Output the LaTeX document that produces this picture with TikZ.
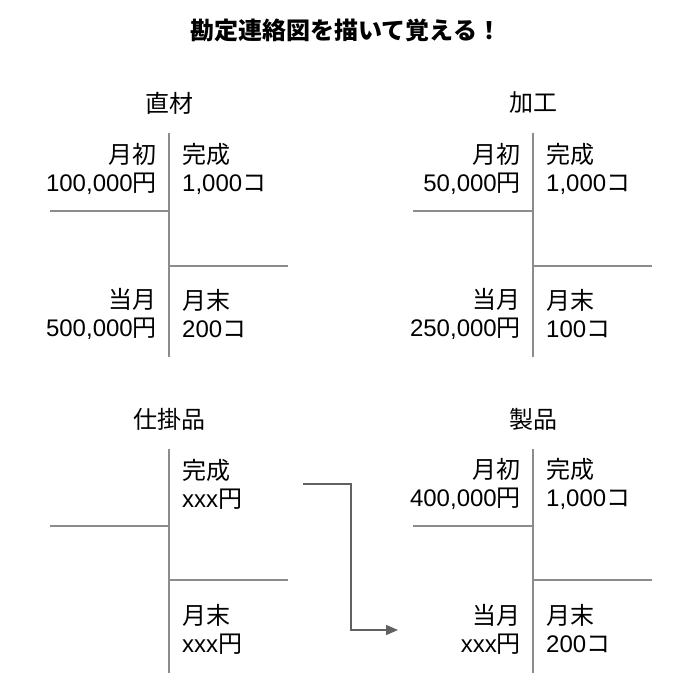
\documentclass[tikz,border=0pt]{standalone}
\usepackage{fontspec}
\setmainfont{Noto Sans CJK JP}
\newfontfamily\latin{Liberation Sans}
\usetikzlibrary{arrows.meta}

\begin{document}
\begin{tikzpicture}[x=1pt, y=-1pt,
  every node/.style={font=\fontsize{24}{28}\selectfont, inner sep=0pt},
  title/.style={font=\fontsize{24}{28}\selectfont\bfseries},
  head/.style={anchor=center},
  debit/.style={anchor=east, align=right},
  credit/.style={anchor=west, align=left},
  tline/.style={draw=black!45, line width=2pt},
  flow/.style={draw=black!62, line width=1.5pt, -{Triangle[length=12pt, width=10pt]}}
]
  \useasboundingbox (0,0) rectangle (689,685);

  % --- Title ---
  \node[title] (ttl) at (346,30) {勘定連絡図を描いて覚える！};

  % --- 直材 ---
  \node[head] (mat) at (169,103) {直材};
  \draw[tline] (169,133) -- (169,357);
  \draw[tline] (50,211) -- (169,211);
  \draw[tline] (169,266) -- (288,266);
  \node[debit]  (matbeg) at (157,169) {月初\\{\latin 100,000}円};
  \node[credit] (matdone) at (182,169) {完成\\{\latin 1,000}コ};
  \node[debit]  (matcur) at (157,314) {当月\\{\latin 500,000}円};
  \node[credit] (matend) at (182,314) {月末\\{\latin 200}コ};

  % --- 加工 ---
  \node[head] (proc) at (533,103) {加工};
  \draw[tline] (533,133) -- (533,357);
  \draw[tline] (413,211) -- (533,211);
  \draw[tline] (533,266) -- (652,266);
  \node[debit]  (procbeg) at (521,169) {月初\\{\latin 50,000}円};
  \node[credit] (procdone) at (546,169) {完成\\{\latin 1,000}コ};
  \node[debit]  (proccur) at (521,314) {当月\\{\latin 250,000}円};
  \node[credit] (procend) at (546,314) {月末\\{\latin 100}コ};

  % --- 仕掛品 ---
  \node[head] (wip) at (169,419) {仕掛品};
  \draw[tline] (169,449) -- (169,673);
  \draw[tline] (50,526) -- (169,526);
  \draw[tline] (169,580) -- (288,580);
  \node[credit] (wipdone) at (182,484) {完成\\{\latin xxx}円};
  \node[credit] (wipend) at (182,629) {月末\\{\latin xxx}円};

  % --- 製品 ---
  \node[head] (fin) at (533,419) {製品};
  \draw[tline] (533,449) -- (533,673);
  \draw[tline] (413,526) -- (533,526);
  \draw[tline] (533,580) -- (652,580);
  \node[debit]  (finbeg) at (521,484) {月初\\{\latin 400,000}円};
  \node[credit] (findone) at (546,484) {完成\\{\latin 1,000}コ};
  \node[debit]  (fincur) at (521,629) {当月\\{\latin xxx}円};
  \node[credit] (finend) at (546,629) {月末\\{\latin 200}コ};

  % --- Transfer ---
  \coordinate (out) at (303,484);
  \coordinate (in) at (398,630);
  \draw[flow] (out) -- (351,484) |- (in);

\end{tikzpicture}
\end{document}
